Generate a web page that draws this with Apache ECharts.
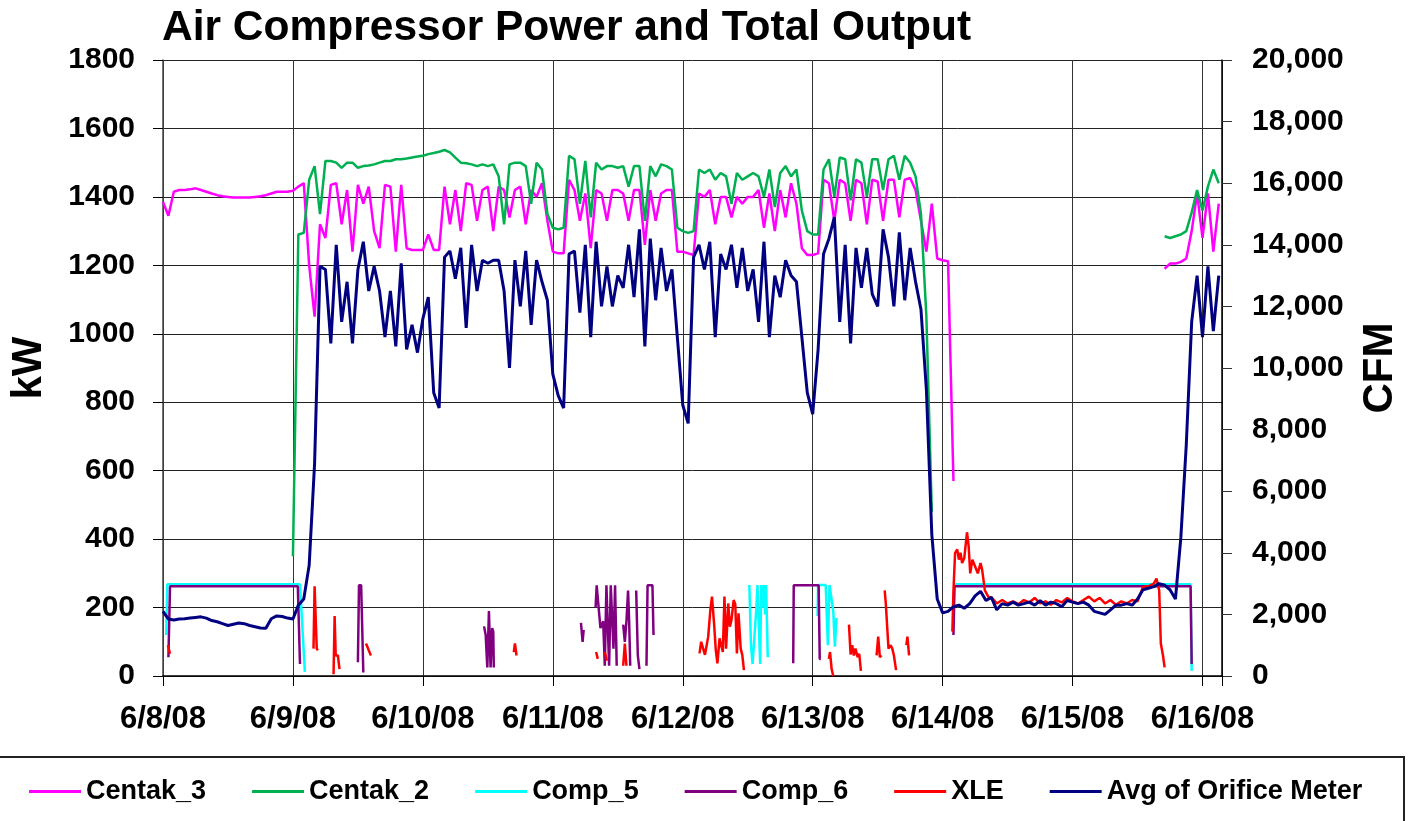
<!DOCTYPE html>
<html>
<head>
<meta charset="utf-8">
<script src="https://cdn.jsdelivr.net/npm/echarts@6/dist/echarts.min.js"></script>
<style>
  html, body { margin: 0; padding: 0; background: #fff; }
  #chart { width: 1408px; height: 821px; }
</style>
</head>
<body>
<div id="chart"></div>
<script>
// x unit = hours since 6/8/08 00:00, one value per hour for the continuous series
const dayLabels = ['6/8/08', '6/9/08', '6/10/08', '6/11/08', '6/12/08', '6/13/08', '6/14/08', '6/15/08', '6/16/08'];
const seriesNames = ['Centak_3', 'Centak_2', 'Comp_5', 'Comp_6', 'XLE', 'Avg of Orifice Meter'];

const centak3Kw = [
  1385, 1345, 1415, 1420, 1420, 1422, 1425, 1420, 1415, 1410, 1405, 1402, 1400, 1398, 1398, 1398, 1398, 1400, 1402, 1405, 1410, 1415, 1415, 1415,
  1418, 1430, 1440, 1200, 1050, 1320, 1280, 1435, 1440, 1320, 1420, 1240, 1435, 1380, 1430, 1300, 1250, 1435, 1430, 1240, 1435, 1250, 1245, 1245,
  1245, 1290, 1245, 1245, 1430, 1320, 1420, 1300, 1440, 1435, 1330, 1420, 1430, 1300, 1430, 1420, 1340, 1420, 1430, 1320, 1420, 1400, 1440, 1330,
  1240, 1235, 1235, 1450, 1420, 1330, 1410, 1250, 1420, 1410, 1330, 1420, 1420, 1410, 1330, 1420, 1420, 1260, 1420, 1330, 1410, 1420, 1420, 1240,
  1240, 1235, 1230, 1410, 1400, 1420, 1320, 1400, 1400, 1340, 1400, 1380, 1400, 1400, 1420, 1310, 1410, 1300, 1420, 1340, 1440, 1380, 1250, 1230,
  1230, 1235, 1450, 1440, 1330, 1450, 1440, 1330, 1450, 1440, 1320, 1450, 1445, 1330, 1450, 1450, 1340, 1450, 1455, 1420, 1330, 1240, 1380, 1220, 1215, 1212,
  570,
  null, null, null, null, null, null, null, null, null, null, null, null, null, null, null, null, null, null, null,
  null, null, null, null, null, null, null, null, null, null, null, null, null, null, null, null, null, null, null,
  1190, 1205, 1205, 1210, 1220, 1300, 1410, 1280, 1410, 1240, 1380
];

const centak2Kw = [
  null, null, null, null, null, null, null, null, null, null, null, null, null, null, null, null, null, null, null, null, null, null, null, null,
  350, 1290, 1295, 1450, 1490, 1350, 1505, 1505, 1500, 1485, 1500, 1500, 1485, 1490, 1492, 1495, 1500, 1505, 1505, 1510, 1510, 1512, 1515, 1518,
  1520, 1525, 1528, 1532, 1537, 1530, 1515, 1500, 1498, 1495, 1490, 1495, 1490, 1495, 1460, 1320, 1495, 1500, 1500, 1490, 1380, 1500, 1480, 1350,
  1310, 1305, 1310, 1520, 1510, 1380, 1505, 1340, 1500, 1480, 1490, 1490, 1485, 1490, 1430, 1490, 1490, 1330, 1490, 1460, 1495, 1490, 1480, 1310,
  1300, 1295, 1300, 1480, 1470, 1480, 1450, 1470, 1460, 1380, 1470, 1450, 1460, 1470, 1460, 1400, 1480, 1370, 1470, 1490, 1460, 1480, 1360, 1300,
  1290, 1290, 1480, 1510, 1400, 1515, 1510, 1390, 1510, 1500, 1400, 1510, 1510, 1420, 1510, 1520, 1450, 1520, 1500, 1460, 1350, 1050, 480,
  null, null, null, null, null, null, null, null, null, null, null, null, null, null, null, null, null, null, null, null, null,
  null, null, null, null, null, null, null, null, null, null, null, null, null, null, null, null, null, null, null, null, null,
  1285, 1280, 1285, 1290, 1300, 1355, 1420, 1360, 1430, 1480, 1440
];

const orificeCfm = [
  2100, 1850, 1820, 1850, 1860, 1880, 1900, 1920, 1880, 1800, 1760, 1700, 1640, 1680, 1720, 1700, 1640, 1600, 1560, 1550, 1860, 1950, 1930, 1880,
  1850, 2300, 2500, 3600, 6900, 13300, 13200, 10800, 14000, 11500, 12800, 10800, 13200, 14100, 12500, 13300, 12500, 11000, 12500, 10700, 13400, 10600, 11400, 10500,
  11600, 12300, 9200, 8700, 13600, 13800, 12900, 13900, 11300, 14000, 12500, 13500, 13400, 13500, 13500, 12500, 10000, 13500, 12000, 13800, 11400, 13500, 12800, 12200,
  9800, 9100, 8700, 13700, 13800, 11800, 14000, 11000, 14100, 12000, 13300, 12000, 13000, 12600, 14000, 12300, 14500, 10700, 14200, 12200, 13900, 12500, 13200, 11000,
  8800, 8200, 13600, 14000, 13200, 14100, 11000, 13700, 13200, 14000, 12600, 13900, 12500, 13200, 11500, 14100, 11000, 13000, 12300, 13500, 13000, 12800, 11000, 9200,
  8500, 10600, 13700, 14200, 14900, 11500, 14000, 10800, 13900, 12600, 13900, 12400, 12000, 14500, 13600, 12000, 14400, 12200, 13900, 12800, 11900, 9300, 4600,
  2500, 2050, 2100, 2250, 2300, 2200, 2350, 2600, 2750, 2450, 2550, 2150, 2350, 2300, 2400, 2300, 2350, 2400, 2300, 2450, 2300, 2400, 2350, 2250, 2450, 2400, 2350,
  2400, 2300, 2100, 2050, 2000, 2150, 2300, 2300, 2350, 2300, 2500, 2800, 2850, 2900, 3000, 2950, 2800, 2500, 4500, 7500, 11500, 13000, 11000, 13300, 11200, 13000
];

// intermittent series: hour of each reading and its kW (null = gap)
const comp5Hours = [0.6, 0.8, 25.3, 26.2, 26.2,
  108.3, 108.6, 108.9, 109.2, 109.6, 109.8, 110.0, 110.3, 110.5, 110.8, 111.0, 111.2, 111.4, 111.7, 111.7,
  120.9, 121.0, 122.4, 122.8, 123.1, 123.4, 123.8, 124.1, 124.4, 124.4,
  146.2, 189.8, 190.0];
const comp5Kw = [120, 268, 268, 12, null,
  266, 90, 35, 35, 200, 266, 266, 35, 266, 200, 266, 180, 266, 55, null,
  175, 266, 266, 90, 266, 266, 190, 86, 170, null,
  268, 268, 15];

const comp6Hours = [1.0, 1.3, 24.9, 25.3, 25.3,
  36.0, 36.2, 36.6, 37.0, 37.0,
  59.3, 59.6, 59.9, 60.2, 60.5, 60.8, 61.0, 61.1, 61.1,
  77.2, 77.5, 77.7, 77.7,
  79.9, 80.1, 80.4, 80.8, 81.3, 81.6, 81.9, 82.2, 82.4, 82.7, 82.9, 83.2, 83.5, 83.8, 83.8,
  85.0, 85.3, 85.6, 85.9, 86.1, 86.3, 86.3,
  87.4, 87.7, 88.0, 88.0,
  89.3, 89.5, 90.4, 90.6, 90.6,
  116.4, 116.5, 121.1, 121.3, 121.5, 121.5,
  146.0, 146.2, 189.8, 190.0];
const comp6Kw = [55, 262, 262, 35, null,
  40, 265, 265, 10, null,
  145, 120, 25, 190, 25, 140, 130, 25, null,
  155, 100, 135, null,
  200, 265, 265, 140, 160, 30, 265, 265, 30, 265, 265, 80, 265, 30, null,
  150, 100, 160, 250, 160, 30, null,
  250, 60, 20, null,
  30, 265, 265, 120, null,
  37, 265, 265, 50, 50, null,
  120, 262, 262, 35];

const xleHours = [0.9, 1.3, 1.3,
  27.8, 28.0, 28.4, 28.6, 28.6,
  31.5, 31.7, 31.9, 32.3, 32.6, 32.6,
  37.5, 38.0, 38.4, 38.4,
  64.8, 65.0, 65.3, 65.3,
  80.0, 80.3, 80.3,
  81.6, 82.0, 82.0,
  85.0, 85.3, 85.6, 85.6,
  99.1, 99.4, 100.1, 100.7, 101.1, 101.4, 101.8, 102.1, 102.4, 102.8, 103.1, 103.4, 103.7, 104.0, 104.4, 104.7, 105.0, 105.4, 105.7, 106.0, 106.3, 106.7, 107.0, 107.3, 107.3,
  123.0, 123.2, 123.5, 123.8, 123.8,
  126.7, 127.0, 127.3, 127.6, 127.9, 128.3, 128.6, 128.9, 128.9,
  131.8, 132.1, 132.4, 132.7, 132.7,
  133.3, 133.5, 134.0, 134.4, 134.7, 135.0, 135.4, 135.4,
  137.3, 137.5, 137.8, 137.8,
  145.8, 146.0, 146.3, 146.7, 147.0, 147.3, 147.6, 148.0, 148.5, 148.8, 149.1, 149.5, 150.0, 150.5, 151.0, 151.3, 151.8, 152.5,
  153, 154, 155, 156, 157, 158, 159, 160, 161, 162, 163, 164, 165, 166, 167, 168, 169, 170, 171, 172, 173, 174, 175, 176, 177, 178, 179, 180,
  181, 182, 183, 183.5, 184.0, 184.3, 184.7, 185.0];
const xleKw = [90, 65, null,
  80, 262, 80, 75, null,
  5, 175, 60, 60, 20, null,
  95, 75, 60, null,
  70, 95, 60, null,
  70, 50, null,
  70, 45, null,
  30, 95, 30, null,
  66, 100, 62, 115, 193, 232, 150, 76, 37, 110, 115, 70, 232, 80, 212, 144, 164, 222, 210, 66, 183, 80, 61, 17, null,
  50, 70, 20, 0, null,
  150, 63, 90, 60, 80, 55, 65, 15, null,
  60, 115, 55, 60, null,
  250, 212, 80, 90, 80, 60, 17, null,
  90, 115, 60, null,
  130, 250, 360, 370, 340, 360, 330, 345, 420, 380, 300, 340, 320, 300, 330, 310, 250, 230,
  230, 212, 222, 212, 218, 210, 222, 215, 228, 212, 218, 208, 222, 215, 228, 218, 212, 222, 232, 218, 228, 212, 222, 208, 218, 212, 222, 218,
  260, 262, 270, 285, 250, 95, 60, 25];

const colors = ['#ff00ff', '#00b050', '#00ffff', '#800080', '#ff0000', '#000080'];
const font = "'Liberation Sans', Arial, sans-serif";

const hourly = vals => vals.map((v, i) => [i, v]);
const paired = (hours, vals) => hours.map((h, i) => [h, vals[i]]);

const chart = echarts.init(document.getElementById('chart'), null, { renderer: 'canvas' });

const lineSeries = (name, data, color, width, yAxisIndex) => ({
  name,
  type: 'line',
  data,
  yAxisIndex,
  showSymbol: false,
  symbol: 'none',
  connectNulls: false,
  lineStyle: { color, width },
  itemStyle: { color },
});

chart.setOption({
  animation: false,
  backgroundColor: '#fff',
  title: {
    text: 'Air Compressor Power and Total Output',
    left: 157,
    top: 2,
    textStyle: { fontFamily: font, fontSize: 42.5, fontWeight: 'bold', color: '#000' },
  },
  grid: { left: 163, right: 186, top: 60, bottom: 145, outerBoundsMode: 'none', containLabel: false },
  legend: {
    data: seriesNames,
    left: 24,
    top: 773,
    icon: 'rect',
    itemWidth: 52,
    itemHeight: 3,
    itemGap: 46,
    textStyle: { fontFamily: font, fontSize: 27, fontWeight: 'bold', color: '#000' },
  },
  xAxis: {
    type: 'value',
    min: 0,
    max: 195.6,
    interval: 24,
    axisLine: { show: true, onZero: false, lineStyle: { color: '#000', width: 1.5 } },
    axisTick: { show: true, length: 10, lineStyle: { color: '#000' } },
    splitLine: { show: true, lineStyle: { color: '#333', width: 1 } },
    axisLabel: {
      margin: 28,
      fontFamily: font,
      fontSize: 31,
      fontWeight: 'bold',
      color: '#000',
      formatter: v => (v % 24 === 0 ? dayLabels[v / 24] : ''),
    },
  },
  yAxis: [
    {
      type: 'value',
      min: 0,
      max: 1800,
      interval: 200,
      name: 'kW',
      nameLocation: 'middle',
      nameRotate: 90,
      nameGap: 113,
      nameTextStyle: { fontFamily: font, fontSize: 42, fontWeight: 'bold', color: '#000' },
      axisLine: { show: true, lineStyle: { color: '#444', width: 1.5 } },
      axisTick: { show: true, length: 10, lineStyle: { color: '#000' } },
      splitLine: { show: true, lineStyle: { color: '#222', width: 1 } },
      axisLabel: {
        margin: 28,
        fontFamily: font,
        fontSize: 30,
        fontWeight: 'bold',
        color: '#000',
        formatter: v => String(v),
      },
    },
    {
      type: 'value',
      min: 0,
      max: 20000,
      interval: 2000,
      position: 'right',
      name: 'CFM',
      nameLocation: 'middle',
      nameRotate: 90,
      nameGap: 137,
      nameTextStyle: { fontFamily: font, fontSize: 42, fontWeight: 'bold', color: '#000' },
      axisLine: { show: true, lineStyle: { color: '#000', width: 1.5 } },
      axisTick: { show: true, length: 10, lineStyle: { color: '#333' } },
      splitLine: { show: false },
      axisLabel: {
        margin: 30,
        fontFamily: font,
        fontSize: 30,
        fontWeight: 'bold',
        color: '#000',
        formatter: v => v.toLocaleString('en-US'),
      },
    },
  ],
  graphic: [
    {
      type: 'rect',
      silent: true,
      shape: { x: -2, y: 757, width: 1406, height: 70 },
      style: { fill: 'none', stroke: '#222', lineWidth: 2 },
    },
  ],
  series: [
    lineSeries(seriesNames[0], hourly(centak3Kw), colors[0], 2.5, 0),
    lineSeries(seriesNames[1], hourly(centak2Kw), colors[1], 2.5, 0),
    lineSeries(seriesNames[2], paired(comp5Hours, comp5Kw), colors[2], 2.5, 0),
    lineSeries(seriesNames[3], paired(comp6Hours, comp6Kw), colors[3], 2.5, 0),
    lineSeries(seriesNames[4], paired(xleHours, xleKw), colors[4], 2.5, 0),
    lineSeries(seriesNames[5], hourly(orificeCfm), colors[5], 3, 1),
  ],
});
</script>
</body>
</html>
